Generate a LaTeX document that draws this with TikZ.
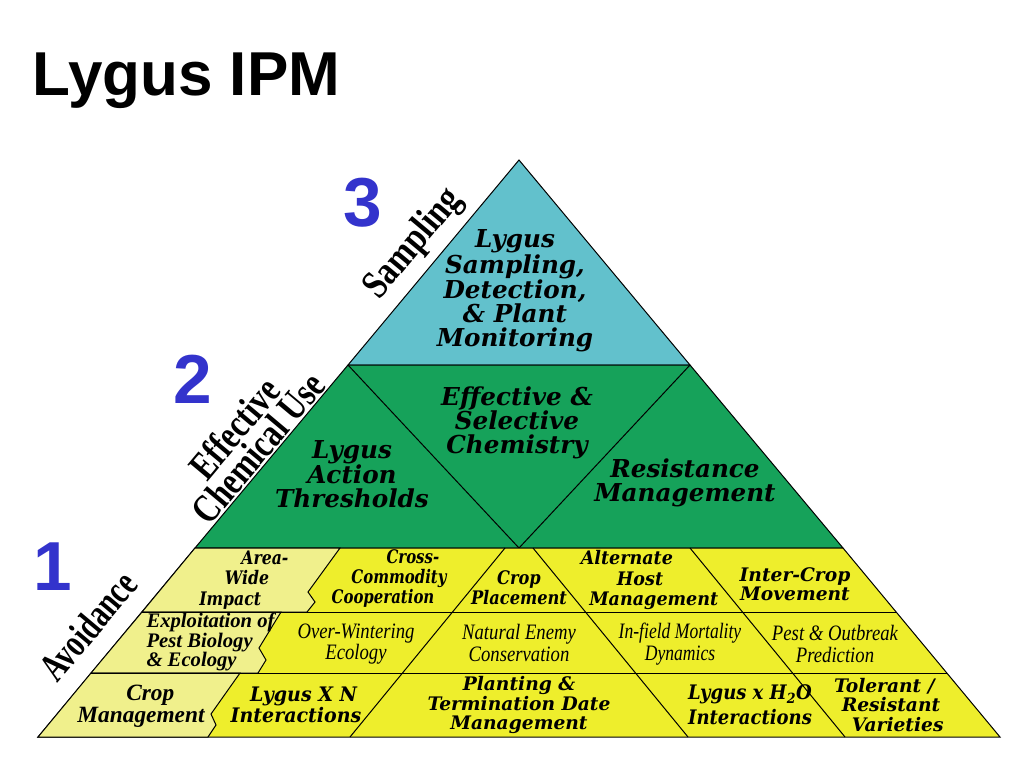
\documentclass[tikz,border=0pt]{standalone}
\usepackage{fontspec}
\setmainfont{Liberation Serif}
\newfontfamily\wideserif{DejaVu Serif}
\newfontfamily\headsans{Liberation Sans}

\definecolor{tealtop}{RGB}{98,193,204}
\definecolor{greenmid}{RGB}{22,162,90}
\definecolor{yellowlow}{RGB}{238,238,44}
\definecolor{yellowpale}{RGB}{240,240,140}
\definecolor{numblue}{RGB}{51,51,204}

\tikzset{every picture/.style={line width=0.75pt}}
\tikzset{
  bigcell/.style={font=\wideserif\bfseries\itshape\fontsize{18.5}{18}\selectfont, align=center, inner sep=0.75pt},
  lowcell/.style={font=\wideserif\bfseries\itshape\fontsize{14}{14.5}\selectfont, align=center, inner sep=0.75pt},
  thincell/.style={font=\itshape\fontsize{16.5}{16}\selectfont, align=center, inner sep=0.75pt, xscale=0.85},
  timescell/.style={font=\bfseries\itshape\fontsize{15.5}{14.5}\selectfont, inner sep=0.75pt},
  sidelabel/.style={font=\bfseries\fontsize{30}{23}\selectfont, align=center, inner sep=0.75pt, rotate=50, xscale=0.78},
  tiernum/.style={font=\headsans\bfseries\fontsize{52}{52}\selectfont, text=numblue, inner sep=0pt},
}

\begin{document}
\begin{tikzpicture}[x=0.75pt,y=0.75pt,yscale=-1,xscale=1]
\useasboundingbox (0,0) rectangle (1024,768);

%Shape: Triangle top tier
\draw [fill=tealtop] (519,160) -- (348,365) -- (690,365) -- cycle ;
%Shape: Trapezoid middle tier
\draw [fill=greenmid] (348,365) -- (690,365) -- (843,548) -- (195,548) -- cycle ;
%Straight Lines middle V
\draw    (348,365) -- (519,548) -- (690,365) ;
%Shape: Trapezoid bottom tier
\draw [fill=yellowlow] (195,548) -- (843,548) -- (1000,737) -- (38,737) -- cycle ;
%Shape: pale cells
\draw [fill=yellowpale] (195,548) -- (340,548) -- (308,592) -- (315,602) -- (307,612) -- (142,612) -- cycle ;
\draw [fill=yellowpale] (142,612) -- (281,612) -- (259,648) -- (266,660) -- (258,673) -- (91,673) -- cycle ;
\draw [fill=yellowpale] (91,673) -- (240,673) -- (211,714) -- (216,725) -- (208,737) -- (38,737) -- cycle ;
%Straight Lines rows
\draw    (142,612) -- (896,612) ;
\draw    (91,673) -- (947,673) ;
%Straight Lines slants
\draw    (505,548) -- (350,737) ;
\draw    (533,548) -- (688,737) ;
\draw    (690,548) -- (845,737) ;

% Text Node
\draw (32,95) node (title) [anchor=base west] [inner sep=0pt] [font=\headsans\bfseries\fontsize{46.5}{46.5}\selectfont] {Lygus IPM};
% Text Node
\draw (363,203) node (num3) [tiernum] {3};
\draw (193,379) node (num2) [tiernum] {2};
\draw (53,567) node (num1) [tiernum] {1};
% Text Node
\draw (414,244) node (sampling) [sidelabel] [xscale=1.03] {Sampling};
\draw (246,438) node (chemuse) [sidelabel] {Effective\\Chemical Use};
\draw (88,626) node (avoid) [sidelabel] [xscale=0.92] {Avoidance};

% Text Node
\draw (515,291) node (monitor) [bigcell] {Lygus\\Sampling,\\Detection,\\\& Plant\\Monitoring};
\draw (517,423) node (chemistry) [bigcell] {Effective \&\\Selective\\Chemistry};
\draw (352,474) node (threshold) [bigcell] {Lygus\\Action\\Thresholds};
\draw (685,483) node (resist) [bigcell] {Resistance\\Management};

% Text Node
\draw (247,580) node (areawide) [lowcell] [xscale=0.84] [font=\wideserif\bfseries\itshape\fontsize{14}{15.4}\selectfont] {\hspace*{32pt}Area-\\Wide\\Impact\hspace*{30pt}};
\draw (399,579) node (crosscomm) [lowcell] [xscale=0.8] [font=\wideserif\bfseries\itshape\fontsize{14}{15}\selectfont] {\hspace*{26pt}Cross-\\Commodity\\Cooperation\hspace*{30pt}};
\draw (519,588) node (placement) [lowcell] [xscale=0.87] [font=\wideserif\bfseries\itshape\fontsize{14}{15}\selectfont] {Crop\\Placement};
\draw (640,580) node (althost) [lowcell] [xscale=0.94] [font=\wideserif\bfseries\itshape\fontsize{14}{15.4}\selectfont] {Alternate\hspace*{21pt}\\Host\\\hspace*{22pt}Management};
\draw (795,584) node (intercrop) [lowcell] {Inter-Crop\\Movement};

% Text Node
\draw (145,642) node (exploit) [timescell] [anchor=west] [align=left] {Exploitation of\\Pest Biology\\\& Ecology};
\draw (356,644) node (overwinter) [thincell] {Over-Wintering\\Ecology};
\draw (519,643) node (natenemy) [thincell] {Natural Enemy\\Conservation};
\draw (680,644) node (mortality) [thincell] [xscale=0.94] {In-field Mortality\\Dynamics};
\draw (835,644) node (outbreak) [thincell] {Pest \& Outbreak\\Prediction};

% Text Node
\draw (141,706) node (cropmgmt) [timescell] [align=center] [font=\bfseries\itshape\fontsize{17.5}{14.5}\selectfont] {\hspace*{14pt}Crop\\Management};
\draw (296,705) node (lygusn) [lowcell] [xscale=0.95] [font=\wideserif\bfseries\itshape\fontsize{15}{15.5}\selectfont] {\hspace*{12pt}Lygus X N\\Interactions};
\draw (519,705) node (planting) [lowcell] {Planting \&\\Termination Date\\Management};
\draw (750,705) node (lygusw) [lowcell] [xscale=0.9] [font=\wideserif\bfseries\itshape\fontsize{15}{18.5}\selectfont] {Lygus x H\textsubscript{2}O\\Interactions};
\draw (891,705) node (tolerant) [lowcell] {Tolerant /\hspace*{10pt}\\Resistant\\\hspace*{10pt}Varieties};

\end{tikzpicture}
\end{document}
